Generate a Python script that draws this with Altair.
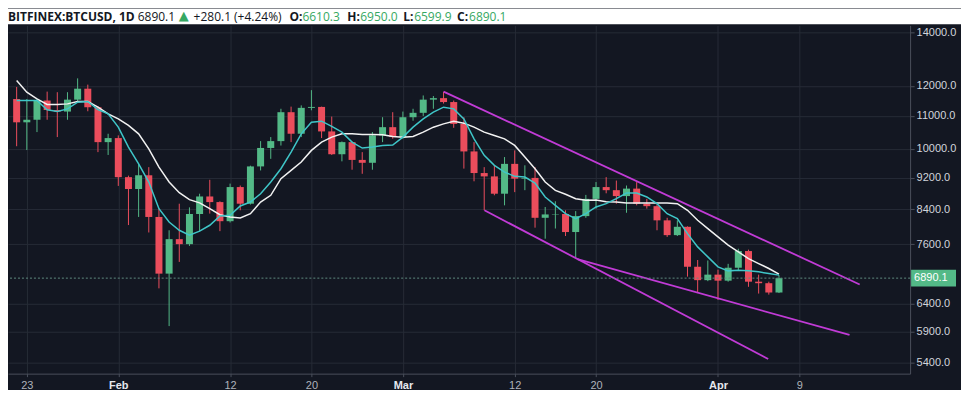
import altair as alt
import pandas as pd

# ---------------- data (BITFINEX:BTCUSD daily, 2018-01-22 .. 2018-04-07) ----------------
first_doy = 22  # day-of-year of the first candle (Jan 22)

opens = [11550, 10800, 10880, 11500, 11190, 11140, 11530, 11900, 11280, 10200,
         10320, 9220, 8910, 9270, 8220, 6980, 7710, 7600, 8290, 8720,
         8580, 8120, 8960, 8540, 9510, 10030, 10230, 11120, 10450, 11260,
         11290, 10520, 9850, 10200, 9690, 9610, 10400, 10650, 10350, 10960,
         11100, 11530, 11580, 11450, 10750, 9930, 9330, 9240, 8790, 9580,
         9180, 9200, 8200, 8280, 8290, 7870, 8240, 8660, 8960, 8880,
         8730, 8920, 8540, 8480, 8140, 7800, 7990, 7120, 6850, 6960,
         6840, 7100, 7450, 6820, 6790, 6610.3]
highs = [11960, 11550, 11560, 11800, 11780, 11780, 12260, 12040, 11310, 10450,
         10400, 9260, 9580, 9490, 8420, 7910, 8540, 8450, 8790, 9150,
         8600, 9050, 9000, 9530, 10230, 10350, 11230, 11300, 11340, 11850,
         11300, 10980, 10220, 10220, 9910, 10500, 10960, 11120, 11140, 11230,
         11670, 11650, 11790, 11500, 10960, 10200, 9490, 9540, 9770, 9960,
         9540, 9490, 8460, 8600, 8380, 8360, 8760, 9090, 9220, 9130,
         9000, 9090, 8660, 8560, 8200, 8140, 8000, 7260, 7250, 7060,
         7180, 7500, 7480, 6960, 6820, 6950.0]
lows = [10080, 9970, 10500, 10880, 10350, 10880, 11480, 11150, 9910, 9830,
        8990, 8030, 8220, 7860, 6690, 6000, 7220, 7560, 7880, 8300,
        7890, 8090, 8380, 8520, 9400, 9720, 10100, 10200, 10350, 11180,
        10320, 9830, 9650, 9420, 9310, 9420, 10200, 10300, 10300, 10850,
        11000, 11230, 11400, 10630, 9450, 9110, 8380, 8750, 8500, 8830,
        8880, 7970, 7720, 7950, 7780, 7290, 8200, 8420, 8800, 8540,
        8320, 8500, 8420, 7910, 7760, 7780, 6920, 6600, 6830, 6470,
        6820, 7050, 6720, 6590, 6570, 6599.9]
closes = [10800, 10880, 11500, 11190, 11140, 11530, 11900, 11280, 10200, 10320,
          9220, 8910, 9270, 8220, 6980, 7710, 7600, 8290, 8720, 8580,
          8120, 8960, 8540, 9510, 10030, 10230, 11120, 10450, 11260, 11290,
          10520, 9850, 10200, 9690, 9610, 10400, 10650, 10350, 10960, 11100,
          11530, 11580, 11450, 10750, 9930, 9330, 9240, 8790, 9580, 9180,
          9200, 8200, 8280, 8290, 7870, 8240, 8660, 8960, 8880, 8730,
          8920, 8540, 8480, 8140, 7800, 7990, 7120, 6850, 6960, 6840,
          7100, 7450, 6820, 6790, 6610.3, 6890.1]

# moving averages (cyan = fast, white = slow)
ma_fast = [11500, 11500, 11500, 11195, 11143, 11227, 11445, 11468, 11207, 11066,
           10650, 10055, 9583, 9091, 8418, 8102, 7910, 7798, 7890, 8025,
           8244, 8260, 8484, 8582, 8790, 9091, 9446, 9911, 10447, 10805,
           10836, 10672, 10498, 10200, 10026, 10055, 10104, 10113, 10348, 10650,
           10907, 11120, 11282, 11227, 10907, 10297, 9817, 9539, 9356, 9242,
           9223, 9065, 8707, 8501, 8298, 8180, 8298, 8460, 8541, 8665,
           8808, 8808, 8707, 8541, 8298, 8180, 7834, 7540, 7326, 7118,
           7036, 7050, 7036, 7016, 6982, 6950]
ma_slow = [12182, 11779, 11555, 11370, 11370, 11390, 11468, 11468, 11282, 11066,
           10907, 10703, 10447, 10006, 9492, 9091, 8815, 8640, 8560, 8418,
           8274, 8220, 8196, 8298, 8582, 8749, 9178, 9403, 9630, 9960,
           10200, 10348, 10447, 10447, 10429, 10429, 10417, 10368, 10348, 10368,
           10498, 10650, 10752, 10836, 10774, 10650, 10498, 10398, 10297, 10104,
           9769, 9446, 9091, 8876, 8775, 8665, 8625, 8632, 8590, 8582,
           8557, 8557, 8557, 8557, 8557, 8541, 8380, 8141, 7947, 7760,
           7577, 7432, 7290, 7186, 7084, 6969]

# drawn trend lines (start / end points: day-of-year, price)
trend_ids = ["upper", "upper", "steep", "steep", "lower", "lower"]
trend_days = [64.0, 104.94, 68.02, 95.94, 77.17, 103.94]
trend_prices = [11800, 6765, 8380, 5457, 7278, 5848]

# axes
tick_days = [23, 32, 43, 51, 60, 71, 79, 91, 99]
tick_labels = ["23", "Feb", "12", "20", "Mar", "12", "20", "Apr", "9"]
month_days = [32, 60, 91]
price_ticks = [5400, 5900, 6400, 7600, 8400, 9200, 10000, 11000, 12000, 14000]
last_price = 6890.1

header_texts = ["BITFINEX:BTCUSD, 1D", "6890.1", "+280.1 (+4.24%)",
                "O:", "6610.3", "H:", "6950.0", "L:", "6599.9", "C:", "6890.1"]
triangle_text = "\u25B2"

# ---------------- styling / layout ----------------
W, H = 904, 349
PAD_R, PAD_T, PAD_B = 51, 17, 16
BG = "#131722"
GRID = "#262b36"
BORDER = "#4a4f5b"
UP = "#53b987"
DOWN = "#eb4d5c"
CYAN = "#3fc6c8"
MAGENTA = "#c13bd6"
HDR_DARK = "#131722"
HDR_GREEN = "#36a862"

header_x = [0, 130, 186, 282, 295, 340, 353, 396, 407, 450, 462]
header_bold = [True, False, False, True, False, True, False, True, False, True, False]
header_color = [HDR_DARK, HDR_DARK, HDR_DARK, HDR_DARK, HDR_GREEN,
                HDR_DARK, HDR_GREEN, HDR_DARK, HDR_GREEN, HDR_DARK, HDR_GREEN]
triangle_x = 171

# ---------------- tables ----------------
n = len(closes)
doys = [first_doy + i for i in range(n)]
candles = pd.DataFrame({"doy": doys, "open": opens, "high": highs, "low": lows, "close": closes})
candles["dir"] = ["up" if c >= o else "down" for o, c in zip(opens, closes)]
mas = pd.DataFrame({"doy": doys, "fast": ma_fast, "slow": ma_slow})
trends = pd.DataFrame({"id": trend_ids, "doy": trend_days, "price": trend_prices})
header = pd.DataFrame({"text": header_texts, "px": header_x,
                       "bold": header_bold, "col": header_color})

label_expr = " : ".join(f"datum.value == {d} ? '{l}'" for d, l in zip(tick_days, tick_labels)) + " : ''"
month_test = " || ".join(f"datum.value == {d}" for d in month_days)

x_scale = alt.Scale(domain=[21.64, 109.41], nice=False, zero=False)
y_scale = alt.Scale(type="log", domain=[5231, 14285], nice=False)

x_axis = alt.Axis(values=tick_days, labelExpr=label_expr, grid=True, gridColor=GRID,
                  domainColor=BORDER, tickColor=BORDER, tickSize=3, labelPadding=3,
                  labelFont="Liberation Sans", labelFontSize=11, labelFlush=False,
                  labelOverlap=False, title=None,
                  labelColor={"condition": {"test": month_test, "value": "#e6e8ee"}, "value": "#aeb2bb"},
                  labelFontWeight={"condition": {"test": month_test, "value": "bold"}, "value": "normal"})
y_axis = alt.Axis(orient="right", values=price_ticks, format=".1f", grid=True, gridColor=GRID,
                  domainColor=BORDER, tickColor=BORDER, tickSize=4, labelPadding=2,
                  labelColor="#d1d4dc", labelFont="Liberation Sans", labelFontSize=11,
                  labelOverlap=False, title=None)


def X(field):
    return alt.X(field, type="quantitative", scale=x_scale, axis=x_axis)


def Y(field):
    return alt.Y(field, type="quantitative", scale=y_scale, axis=y_axis)


color_enc = alt.Color("dir:N", scale=alt.Scale(domain=["up", "down"], range=[UP, DOWN]), legend=None)

header_bg = alt.Chart(pd.DataFrame({"k": [0]})).mark_rect(color="white").encode(
    x=alt.value(0), x2=alt.value(W + PAD_R), y=alt.value(-PAD_T), y2=alt.value(-1))

base = alt.Chart(candles)
wicks = base.mark_rule(strokeWidth=1).encode(x=X("doy"), y=Y("low"), y2="high", color=color_enc)
bodies = base.mark_bar(width=7).encode(x=X("doy"), y=Y("open"), y2="close", color=color_enc)

slow_line = alt.Chart(mas).mark_line(color="#f2f2f2", strokeWidth=1.5).encode(x=X("doy"), y=Y("slow"))
fast_line = alt.Chart(mas).mark_line(color=CYAN, strokeWidth=1.5).encode(x=X("doy"), y=Y("fast"))

trend_lines = alt.Chart(trends).mark_line(color=MAGENTA, strokeWidth=1.8).encode(
    x=X("doy"), y=Y("price"), detail="id:N")

lp = pd.DataFrame({"p": [last_price], "label": [f"{last_price:.1f}"]})
price_rule = alt.Chart(lp).mark_rule(color="#5f8b80", strokeWidth=1, strokeDash=[2, 2]).encode(y=Y("p"))
price_box = alt.Chart(lp).transform_calculate(
    hi="datum.p * exp(8.5 / 347.4)", lo="datum.p * exp(-8.5 / 347.4)"
).mark_rect(color=UP).encode(x=alt.value(W + 1), x2=alt.value(W + 46), y=Y("hi"), y2="lo")
price_text = alt.Chart(lp).mark_text(align="left", baseline="middle", color="white",
                                     font="Liberation Sans", fontSize=11).encode(
    x=alt.value(W + 4), y=Y("p"), text="label:N")

hdr_bold = alt.Chart(header).transform_filter("datum.bold").mark_text(
    align="left", baseline="middle", font="Open Sans", fontSize=12, fontWeight="bold").encode(
    x=alt.X("px:Q", scale=None), y=alt.value(-8.5), text="text:N", color=alt.Color("col:N", scale=None))
hdr_norm = alt.Chart(header).transform_filter("!datum.bold").mark_text(
    align="left", baseline="middle", font="Open Sans", fontSize=12).encode(
    x=alt.X("px:Q", scale=None), y=alt.value(-8.5), text="text:N", color=alt.Color("col:N", scale=None))
hdr_tri = alt.Chart(pd.DataFrame({"t": [triangle_text]})).mark_text(
    align="left", baseline="middle", font="DejaVu Sans", fontSize=13, color=HDR_GREEN).encode(
    x=alt.value(triangle_x), y=alt.value(-9), text="t:N")

chart = alt.layer(
    header_bg, wicks, bodies, slow_line, fast_line, trend_lines,
    price_rule, price_box, price_text, hdr_bold, hdr_norm, hdr_tri
).properties(
    width=W, height=H, background=BG,
    autosize=alt.AutoSizeParams(type="none"),
    padding={"left": 0, "top": PAD_T, "right": PAD_R, "bottom": PAD_B},
).configure_view(stroke=None, fill=BG)

chart.save("out.html", embed_options={"renderer": "svg", "actions": False})
